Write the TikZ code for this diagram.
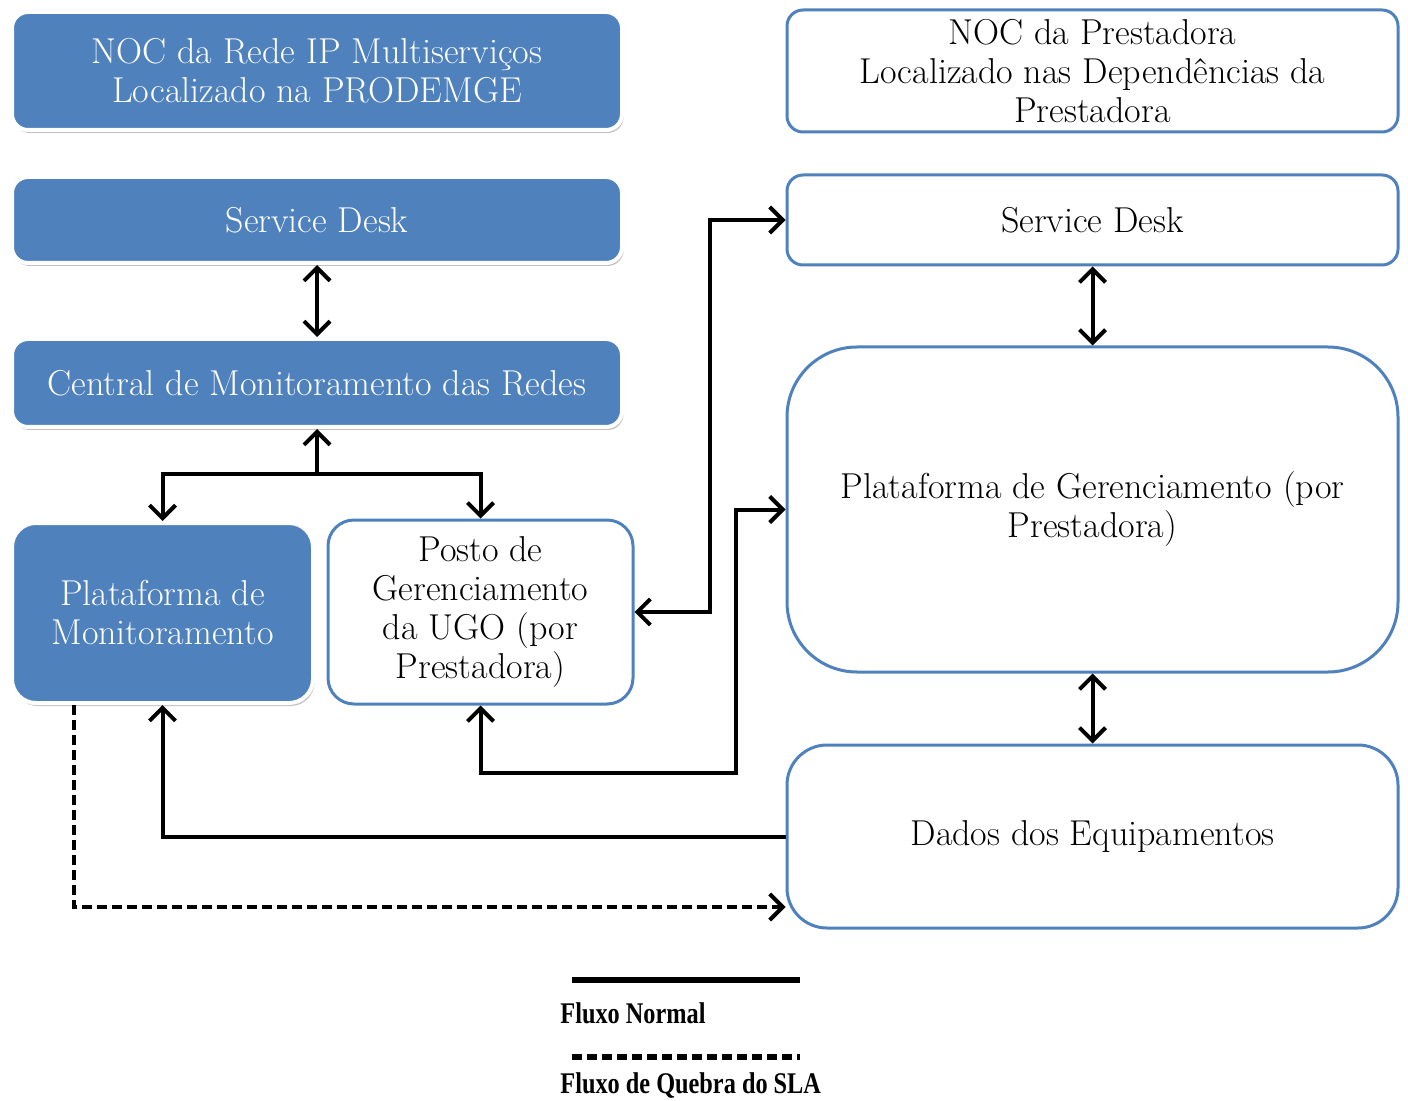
\documentclass[tikz,border=0pt]{standalone}
\usepackage{fontspec}
\newfontfamily\legfont{Liberation Serif}
\usetikzlibrary{arrows.meta,shadows}
\definecolor{blu}{RGB}{79,129,189}
\begin{document}
\begin{tikzpicture}[x=0.5pt,y=-0.5pt,
  txt/.style={align=center,font=\fontsize{18}{19.5}\selectfont,inner sep=0pt},
  fbox/.style={txt,rounded corners=8pt,fill=blu,draw=white,line width=2pt,text=white,
    drop shadow={shadow xshift=0.8pt,shadow yshift=-1.5pt,opacity=0.35,fill=black!70}},
  wbox/.style={txt,rounded corners=8pt,fill=white,draw=blu,line width=1.5pt,text=black},
  con/.style={line width=2pt,draw=black},
  tip/.style={},
  arr/.style={con,-{Straight Barb[length=6.5pt,width=13pt,line width=2pt]}},
  darr/.style={con,{Straight Barb[length=6.5pt,width=13pt,line width=2pt]}-{Straight Barb[length=6.5pt,width=13pt,line width=2pt]}},
  dsh/.style={dash pattern=on 5pt off 2.5pt},
  leg/.style={anchor=west,inner sep=0pt,font=\legfont\fontsize{15}{17}\selectfont\bfseries}
]
\useasboundingbox (0,0) rectangle (1408,1101);

% left column
\node[fbox,minimum width=305pt,minimum height=59pt] (nocL) at (317,71)
  {NOC da Rede IP Multiserviços\\Localizado na PRODEMGE};
\node[fbox,minimum width=305pt,minimum height=43pt] (sdL) at (317,220) {Service Desk};
\node[fbox,minimum width=305pt,minimum height=44pt] (cenL) at (317,383) {Central de Monitoramento das Redes};
\node[fbox,rounded corners=12pt,minimum width=150.5pt,minimum height=90pt] (platM) at (162.5,613)
  {Plataforma de\\Monitoramento};
\node[wbox,rounded corners=13pt,minimum width=152.5pt,minimum height=92pt] (posto) at (480.5,612)
  {Posto de\\Gerenciamento\\da UGO (por\\Prestadora)};

% right column
\node[wbox,minimum width=305.5pt,minimum height=61pt] (nocR) at (1092.5,71)
  {NOC da Prestadora\\Localizado nas Dependências da\\Prestadora};
\node[wbox,minimum width=305.5pt,minimum height=45pt] (sdR) at (1092.5,220) {Service Desk};
\node[wbox,rounded corners=35pt,minimum width=305.5pt,minimum height=162.5pt] (platG) at (1092.5,509.5)
  {Plataforma de Gerenciamento (por\\Prestadora)};
\node[wbox,rounded corners=20pt,minimum width=305.5pt,minimum height=91.5pt] (dados) at (1092.5,836.5)
  {Dados dos Equipamentos};

% connectors
\draw[darr] (sdL.south) -- (cenL.north);
\coordinate (j1) at (317,474);
\draw[arr] (j1) -- (cenL.south);
\draw[arr] (j1) -| (platM.north);
\draw[arr] (j1) -| (posto.north);

\coordinate (c1) at (710,610);
\draw[darr] (posto.east) -- (posto.east -| c1) |- (sdR.west);

\coordinate (c2) at (736,773);
\draw[darr] (posto.south) |- (c2) |- (platG.west);

\draw[arr] (dados.west) -| (platM.south);

\coordinate (d1) at (74,907);
\draw[arr,dsh] (platM.south -| d1) |- (dados.west |- d1);

\draw[darr] (sdR.south) -- (platG.north);
\draw[darr] (platG.south) -- (dados.north);

% legend
\coordinate (l1) at (572,980);
\coordinate (l2) at (800,980);
\draw[line width=3pt] (l1) -- (l2);
\node[leg] (t1) at (560,1013) {\scalebox{0.81}[1]{Fluxo Normal}};
\coordinate (l3) at (572,1057);
\coordinate (l4) at (800,1057);
\draw[line width=3pt,dsh] (l3) -- (l4);
\node[leg] (t2) at (560,1086) {\scalebox{0.81}[1]{Fluxo de Quebra do SLA}};
\end{tikzpicture}
\end{document}
